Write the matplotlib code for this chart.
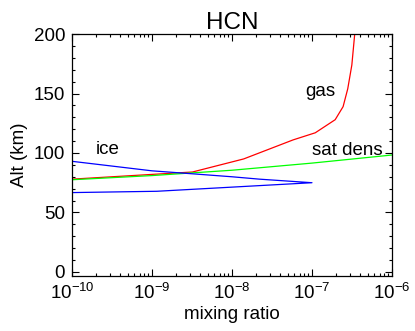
import matplotlib
matplotlib.use('Agg')
import matplotlib.pyplot as plt
from matplotlib.ticker import MultipleLocator, LogLocator, NullFormatter

plt.rcParams['font.family'] = ['Liberation Sans', 'DejaVu Sans']

# gas profile (red)
gas_mr = [1e-10, 3.2e-9, 1.4e-8, 5.8e-8, 1.1e-7, 1.95e-7, 2.45e-7, 2.8e-7, 3.15e-7, 3.4e-7, 3.5e-7]
gas_alt = [78, 84, 95, 111, 117, 128, 139, 154, 174, 198, 210]

# saturation density (green)
sat_mr = [1e-10, 1e-9, 1e-8, 1e-7, 1e-6]
sat_alt = [77.5, 81, 85.5, 91.5, 98.3]

# ice (blue)
ice_mr = [1e-10, 1e-9, 3.2e-9, 1e-8, 2.2e-8, 1e-7, 1.15e-9, 1e-10]
ice_alt = [93, 85, 82.5, 80, 78, 75, 67.8, 66.7]

fig = plt.figure(figsize=(4.15, 3.31), dpi=100)
ax = fig.add_axes([0.1735, 0.166, 0.771, 0.731])

ax.plot(gas_mr, gas_alt, color='red', lw=0.9)
ax.plot(sat_mr, sat_alt, color='#00ff00', lw=0.9)
ax.plot(ice_mr, ice_alt, color='blue', lw=0.9)

ax.set_xscale('log')
ax.set_xlim(1e-10, 1e-6)
ax.set_ylim(-3.5, 200)
ax.yaxis.set_major_locator(MultipleLocator(50))
ax.yaxis.set_minor_locator(MultipleLocator(10))
ax.xaxis.set_major_locator(LogLocator(base=10, numticks=10))
ax.xaxis.set_minor_locator(LogLocator(base=10, subs=range(2, 10), numticks=10))
ax.xaxis.set_minor_formatter(NullFormatter())

ax.tick_params(which='both', direction='in', top=True, right=True, labelsize=13.5, width=0.8)
ax.tick_params(which='major', length=5, pad=5)
ax.tick_params(which='minor', length=2.5)
for s in ax.spines.values():
    s.set_linewidth(0.9)

ax.text(1.26e-7, 152, 'gas', fontsize=13.5, ha='center', va='center')
ax.text(2.8e-10, 103, 'ice', fontsize=13.5, ha='center', va='center')
ax.text(2.75e-7, 102, 'sat dens', fontsize=13.5, ha='center', va='center')

ax.set_xlabel('mixing ratio', fontsize=13.5, labelpad=2)
ax.set_ylabel('Alt (km)', fontsize=13.5, labelpad=4)
ax.set_title('HCN', fontsize=17.5, pad=3)

fig.savefig('out.png', dpi=100)
